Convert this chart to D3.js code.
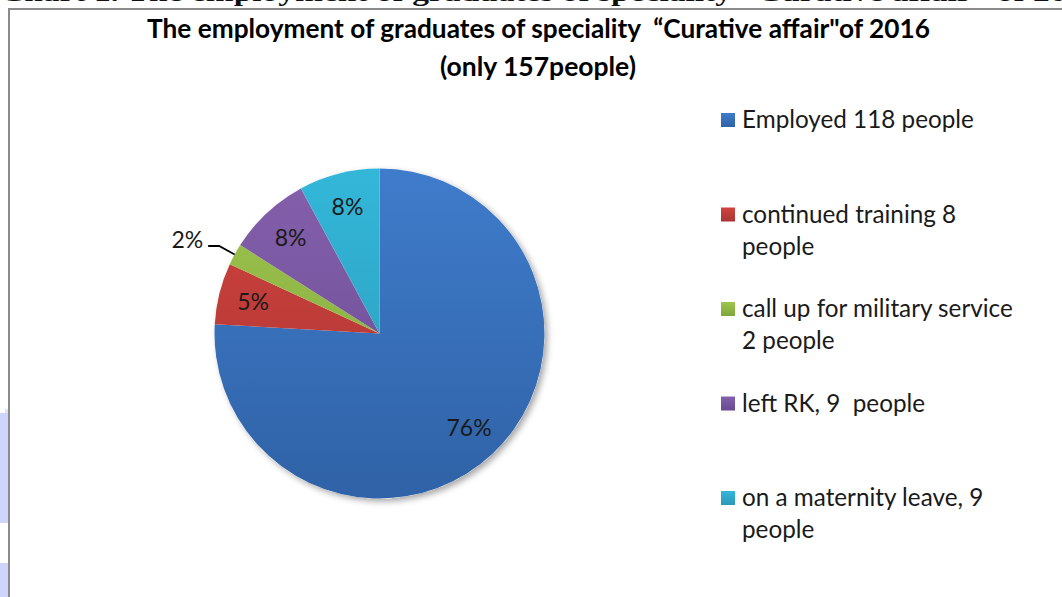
<!DOCTYPE html>
<html><head><meta charset="utf-8">
<script src="https://cdn.jsdelivr.net/npm/d3@7"></script>
<style>html,body{margin:0;padding:0;background:#fff;overflow:hidden} text{white-space:pre}</style>
</head><body>
<svg id="chart" width="1062" height="597"></svg>
<script>
// ---- data ----
const categories = ["Employed 118 people", "continued training 8\npeople", "call up for military service\n2 people", "left RK, 9  people", "on a maternity leave, 9\npeople"];
const shares = [75.9, 6.0, 2.1, 8.1, 7.9];          // slice sizes (%)
const percentLabels = ["76%", "5%", "2%", "8%", "8%"]; // data labels as printed
const titleLines = ["The employment of graduates of speciality  \u201cCurative affair\"of 2016", "(only 157people)"];
const pageHeading = "Chart 1. The employment of graduates of speciality \u201cCurative affair\u201d of 2016";

const colorsTop = ["#3f7ccb", "#d0433f", "#9ec54f", "#8560ac", "#33b7d9"];
const colorsBot = ["#2f62a6", "#a93431", "#7fa63a", "#674a90", "#2b98b6"];

const svg = d3.select("#chart");
const defs = svg.append("defs");

function fit(sel, target) {
  const fs = parseFloat(sel.attr("font-size"));
  const w = sel.node().getComputedTextLength();
  sel.attr("font-size", fs * target / w);
}

// cut-off page heading above the frame
svg.append("text").attr("x", 0).attr("y", 1)
  .attr("font-family", "Liberation Serif, Times New Roman, serif").attr("font-weight", "bold")
  .attr("font-size", 26).attr("fill", "#111").text(pageHeading)
  .attr("textLength", 1100).attr("lengthAdjust", "spacingAndGlyphs");

// left-edge fragments
svg.append("rect").attr("x", 5).attr("y", 409).attr("width", 4).attr("height", 5).attr("fill", "#dde2fd");
svg.append("rect").attr("x", 0).attr("y", 413).attr("width", 9).attr("height", 110).attr("fill", "#cdd5fc");
svg.append("rect").attr("x", 0).attr("y", 563).attr("width", 9).attr("height", 40).attr("fill", "#cdd5fc");

// frame
svg.append("rect").attr("x", 9).attr("y", 9).attr("width", 1200).attr("height", 800)
  .attr("fill", "#fff").attr("stroke", "#8a8a8a").attr("stroke-width", 2);

// title
const t1 = svg.append("text").attr("x", 538.5).attr("y", 38).attr("text-anchor", "middle")
  .attr("font-family", "Lato, sans-serif").attr("font-weight", "bold").attr("font-size", 21)
  .attr("fill", "#000").text(titleLines[0]);
fit(t1, 783);
const t2 = svg.append("text").attr("x", 538).attr("y", 76).attr("text-anchor", "middle")
  .attr("font-family", "Lato, sans-serif").attr("font-weight", "bold").attr("font-size", 21)
  .attr("fill", "#000").text(titleLines[1]);
fit(t2, 196);

// pie
const cx = 379.5, cy = 333.5, R = 165;
shares.forEach((v, i) => {
  const g = defs.append("linearGradient").attr("id", "g" + i)
    .attr("gradientUnits", "userSpaceOnUse")
    .attr("x1", 0).attr("y1", -R).attr("x2", 0).attr("y2", R);
  g.append("stop").attr("offset", "0%").attr("stop-color", colorsTop[i]);
  g.append("stop").attr("offset", "100%").attr("stop-color", colorsBot[i]);
  const lg = defs.append("linearGradient").attr("id", "lg" + i)
    .attr("x1", 0).attr("y1", 0).attr("x2", 0).attr("y2", 1);
  lg.append("stop").attr("offset", "0%").attr("stop-color", colorsTop[i]);
  lg.append("stop").attr("offset", "100%").attr("stop-color", colorsBot[i]);
});
const f = defs.append("filter").attr("id", "shadow").attr("x", "-20%").attr("y", "-20%").attr("width", "140%").attr("height", "140%");
f.append("feDropShadow").attr("dx", 3).attr("dy", 3).attr("stdDeviation", 3).attr("flood-color", "#000").attr("flood-opacity", 0.35);

const pie = d3.pie().sort(null).value(d => d);
const arcs = pie(shares);
const arc = d3.arc().innerRadius(0).outerRadius(R);
const pg = svg.append("g").attr("transform", `translate(${cx},${cy})`);
pg.append("circle").attr("r", R).attr("fill", "#fff").attr("filter", "url(#shadow)");
pg.selectAll("path").data(arcs).join("path")
  .attr("d", arc).attr("fill", (d, i) => `url(#g${i})`);

// labels
const labelArc = d3.arc().innerRadius(R * 0.79).outerRadius(R * 0.79);
const lbl = svg.append("g").attr("transform", `translate(${cx},${cy})`)
  .attr("font-family", "Lato, sans-serif").attr("font-size", 23).attr("fill", "#1a1a1a");
arcs.forEach((d, i) => {
  if (i === 2) {
    const mid = (d.startAngle + d.endAngle) / 2;
    const p0 = [Math.sin(mid) * R, -Math.cos(mid) * R];
    const p1 = [Math.sin(mid) * R * 1.107, -Math.cos(mid) * R * 1.107];
    const p2 = [p1[0] - 11, p1[1]];
    lbl.append("path").attr("d", d3.line()([p0, p1, p2])).attr("fill", "none")
      .attr("stroke", "#000").attr("stroke-width", 1.8);
    lbl.append("text").attr("x", p2[0] - 5).attr("y", p2[1]).attr("dy", "0.1em")
      .attr("text-anchor", "end").text(percentLabels[i]);
  } else {
    const c = labelArc.centroid(d);
    lbl.append("text").attr("x", c[0]).attr("y", c[1]).attr("dy", "0.35em")
      .attr("text-anchor", "middle").text(percentLabels[i]);
  }
});

// legend
const leg = svg.append("g").attr("font-family", "Lato, sans-serif").attr("fill", "#1a1a1a");
const legY = d3.scalePoint().domain(d3.range(categories.length)).range([120, 498]);
let legFs = 24;
const probe = leg.append("text").attr("font-size", legFs).text(categories[0].split("\n")[0]);
legFs = legFs * 232 / probe.node().getComputedTextLength();
probe.remove();
categories.forEach((c, i) => {
  const y = legY(i);
  leg.append("rect").attr("x", 721).attr("y", y - 7).attr("width", 14).attr("height", 14)
    .attr("fill", `url(#lg${i})`);
  const tx = leg.append("text").attr("x", 742).attr("y", y).attr("font-size", legFs);
  c.split("\n").forEach((line, k) => {
    tx.append("tspan").attr("x", 742).attr("y", y + k * 32).attr("dy", "0.35em").text(line);
  });
});
</script>
</body></html>
